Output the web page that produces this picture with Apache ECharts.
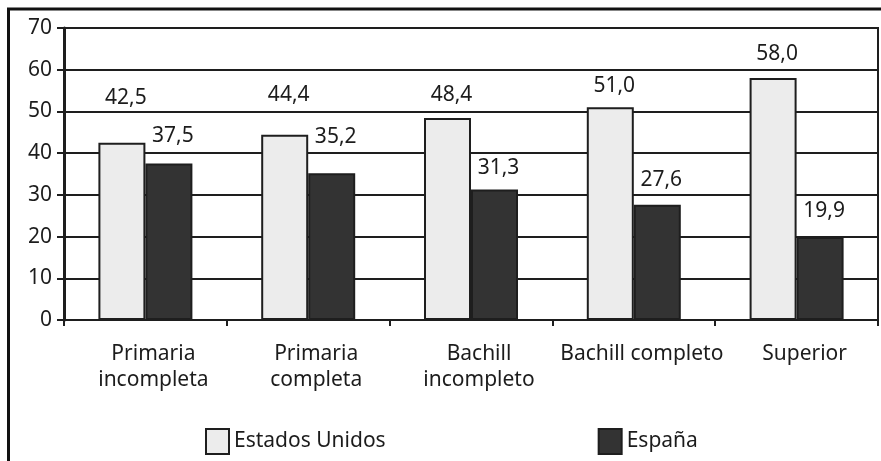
<!DOCTYPE html>
<html>
<head>
<meta charset="utf-8">
<script src="https://cdn.jsdelivr.net/npm/echarts@6/dist/echarts.min.js"></script>
<style>
html,body{margin:0;padding:0;background:#fff;}
#c{width:881px;height:461px;}
</style>
</head>
<body>
<div id="c"></div>
<script>
const categories = ['Primaria\nincompleta', 'Primaria\ncompleta', 'Bachill\nincompleto', 'Bachill completo', 'Superior'];
const seriesNames = ['Estados Unidos', 'España'];
const usValues = [42.5, 44.4, 48.4, 51.0, 58.0];
const esValues = [37.5, 35.2, 31.3, 27.6, 19.9];
const yTicks = [0, 10, 20, 30, 40, 50, 60, 70];

// label placement style (extra lift above bar top, px)
const usLift = [34, 29, 12, 10, 13];
const esLift = [17, 25, 10, 14, 15];

const FONT = 'Noto Sans';
const TXT = '#1c1c1c';
const fmt = v => v.toFixed(1).replace('.', ',');

function mk(values, lifts) {
  return values.map((v, i) => ({
    value: v,
    label: { offset: [4, -lifts[i]] }
  }));
}

const chart = echarts.init(document.getElementById('c'), null, {renderer: 'canvas'});
chart.setOption({
  animation: false,
  backgroundColor: '#fff',
  textStyle: { fontFamily: FONT },
  grid: { left: 64, right: 3, top: 28, bottom: 141, show: true, borderColor: '#1e1e1e', borderWidth: 2, backgroundColor: 'transparent' },
  graphic: [{
    type: 'rect', silent: true, z: 100,
    shape: { x: 8.5, y: 9, width: 900, height: 500 },
    style: { fill: 'none', stroke: '#111', lineWidth: 3 }
  }],
  legend: {
    left: 200, top: 423, icon: 'rect',
    itemWidth: 23, itemHeight: 25, itemGap: 212,
    textStyle: { fontFamily: FONT, fontSize: 21, color: TXT },
    data: seriesNames
  },
  xAxis: {
    type: 'category',
    data: categories,
    axisLine: { show: true, lineStyle: { color: '#1e1e1e', width: 2 } },
    axisTick: { show: true, length: 6, lineStyle: { color: '#1e1e1e', width: 2 } },
    axisLabel: { interval: 0, hideOverlap: false, margin: 21, fontFamily: FONT, fontSize: 21, color: TXT, lineHeight: 26, padding: [0, 0, 0, 16] }
  },
  yAxis: {
    type: 'value', min: yTicks[0], max: yTicks[yTicks.length - 1], interval: 10,
    axisLine: { show: true, lineStyle: { color: '#1e1e1e', width: 3 } },
    axisTick: { show: true, length: 7, lineStyle: { color: '#1e1e1e', width: 2 } },
    axisLabel: { margin: 12, fontFamily: FONT, fontSize: 21, color: TXT },
    splitLine: { show: true, lineStyle: { color: '#1e1e1e', width: 2 } }
  },
  series: [{
    name: seriesNames[0], type: 'bar', barWidth: 47, barGap: '0%',
    itemStyle: { color: '#ececec', borderColor: '#1e1e1e', borderWidth: 2 },
    label: { show: true, position: 'top', distance: 0, fontFamily: FONT, fontSize: 21, lineHeight: 22, color: TXT, formatter: p => fmt(p.value) },
    data: mk(usValues, usLift)
  }, {
    name: seriesNames[1], type: 'bar', barWidth: 47, barGap: '0%',
    itemStyle: { color: '#333333', borderColor: '#1e1e1e', borderWidth: 2 },
    label: { show: true, position: 'top', distance: 0, fontFamily: FONT, fontSize: 21, lineHeight: 22, color: TXT, formatter: p => fmt(p.value) },
    data: mk(esValues, esLift)
  }]
});
</script>
</body>
</html>
